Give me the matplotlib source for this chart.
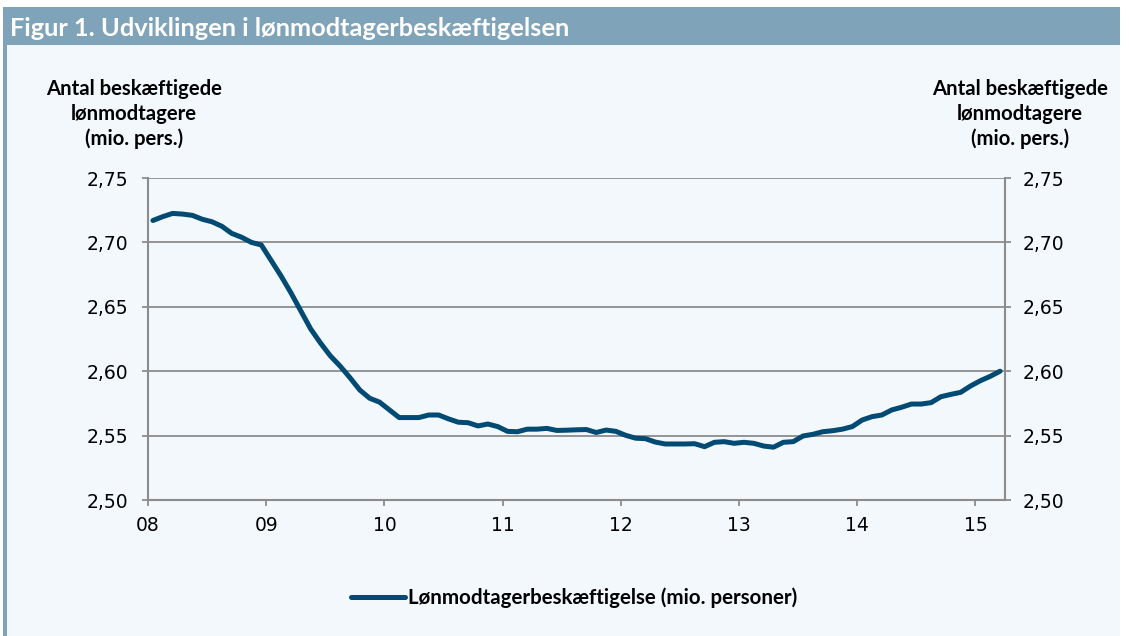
import matplotlib
matplotlib.use("Agg")
import matplotlib.pyplot as plt
import matplotlib.patches as patches
import numpy as np

# monthly employment, jan 2008 - mar 2015 (mio. persons)
employment = [
    2.717, 2.720, 2.7225, 2.722, 2.721, 2.718, 2.716, 2.7125, 2.707, 2.704, 2.700, 2.698,
    2.686, 2.674, 2.661, 2.647, 2.633, 2.622, 2.612, 2.604, 2.595, 2.5854, 2.579, 2.576,
    2.570, 2.564, 2.564, 2.564, 2.566, 2.566, 2.563, 2.5604, 2.560, 2.5575, 2.559, 2.557,
    2.5533, 2.553, 2.555, 2.555, 2.5556, 2.554, 2.5542, 2.5545, 2.5547, 2.5524, 2.5543, 2.5533,
    2.5502, 2.548, 2.5476, 2.545, 2.5435, 2.5435, 2.5435, 2.5437, 2.5414, 2.5448, 2.5453, 2.544,
    2.5448, 2.544, 2.5419, 2.541, 2.5448, 2.5453, 2.5497, 2.551, 2.553, 2.5538, 2.555, 2.557,
    2.5621, 2.5647, 2.566, 2.5699, 2.572, 2.5745, 2.5745, 2.5756, 2.5802, 2.582, 2.5836, 2.5885,
    2.5926, 2.596, 2.600,
]
year_labels = ["08", "09", "10", "11", "12", "13", "14", "15"]
y_ticks = [2.50, 2.55, 2.60, 2.65, 2.70, 2.75]

title = "Figur 1. Udviklingen i lønmodtagerbeskæftigelsen"
axis_label = "Antal beskæftigede\nlønmodtagere\n(mio. pers.)"
series_label = "Lønmodtagerbeskæftigelse (mio. personer)"

W, H = 1129, 636
panel_bg = "#f3f8fc"
frame_col = "#7fa3b9"
grid_col = "#8c8c8c"
line_col = "#004a73"
label_font = ["Lato", "DejaVu Sans"]

fig = plt.figure(figsize=(W / 100, H / 100), dpi=100)
fig.patch.set_facecolor("white")

def px(x, y, w, h):
    # pixel box (top-left origin) -> figure fraction
    return (x / W, 1 - (y + h) / H, w / W, h / H)

# panel, title bar and left border
x0, y0, w0, h0 = px(3, 45, 1117, 591)
fig.patches.append(patches.Rectangle((x0, y0), w0, h0, transform=fig.transFigure,
                                     facecolor=panel_bg, edgecolor="none", zorder=-3))
x0, y0, w0, h0 = px(3, 7, 1117, 38)
fig.patches.append(patches.Rectangle((x0, y0), w0, h0, transform=fig.transFigure,
                                     facecolor=frame_col, edgecolor="none", zorder=-2))
x0, y0, w0, h0 = px(3, 45, 4, 591)
fig.patches.append(patches.Rectangle((x0, y0), w0, h0, transform=fig.transFigure,
                                     facecolor=frame_col, edgecolor="none", zorder=-2))

fig.text(10 / W, 1 - 28 / H, title, color="white", fontsize=18.3, fontweight="bold",
         family=label_font, va="center", ha="left")

ax = fig.add_axes([148 / W, 1 - 500 / H, 857 / W, 322 / H])
ax.set_facecolor("none")

months = np.arange(len(employment)) + 0.5
ax.plot(months, employment, color=line_col, lw=3.6, solid_capstyle="round",
        solid_joinstyle="round", label=series_label, zorder=3)

ax.set_xlim(0, len(employment))
ax.set_ylim(y_ticks[0], y_ticks[-1])
ax.set_xticks(np.arange(len(year_labels)) * 12)
ax.set_xticklabels(year_labels)
ax.set_yticks(y_ticks)
ax.set_yticklabels([f"{v:.2f}".replace(".", ",") for v in y_ticks])
ax.yaxis.grid(True, color=grid_col, lw=1.3)
ax.set_axisbelow(True)

for side in ["left", "right", "bottom"]:
    ax.spines[side].set_color(grid_col)
    ax.spines[side].set_linewidth(1.5)
ax.spines["top"].set_visible(False)

ax.tick_params(axis="both", colors=grid_col, length=4.5, width=1.3, labelcolor="black",
               labelsize=13.5)
ax.tick_params(axis="y", pad=10)
ax.tick_params(axis="x", pad=7)

ax2 = ax.twinx()
ax2.set_ylim(ax.get_ylim())
ax2.set_yticks(y_ticks)
ax2.set_yticklabels([f"{v:.2f}".replace(".", ",") for v in y_ticks])
for side in ax2.spines:
    ax2.spines[side].set_visible(False)
ax2.tick_params(axis="y", colors=grid_col, length=4.5, width=1.3, labelcolor="black",
                labelsize=13.5, pad=8)

for cx in (134, 1020):
    fig.text(cx / W, 1 - 114 / H, axis_label, ha="center", va="center", fontsize=14.6,
             fontweight="bold", family=label_font, linespacing=1.3)

leg = fig.legend(loc="center", bbox_to_anchor=(574 / W, 1 - 598 / H), frameon=False,
                 handlelength=2.6, handletextpad=0.15,
                 prop={"family": label_font, "weight": "bold", "size": 14.8})

fig.savefig("out.png", dpi=100, facecolor=fig.get_facecolor())
